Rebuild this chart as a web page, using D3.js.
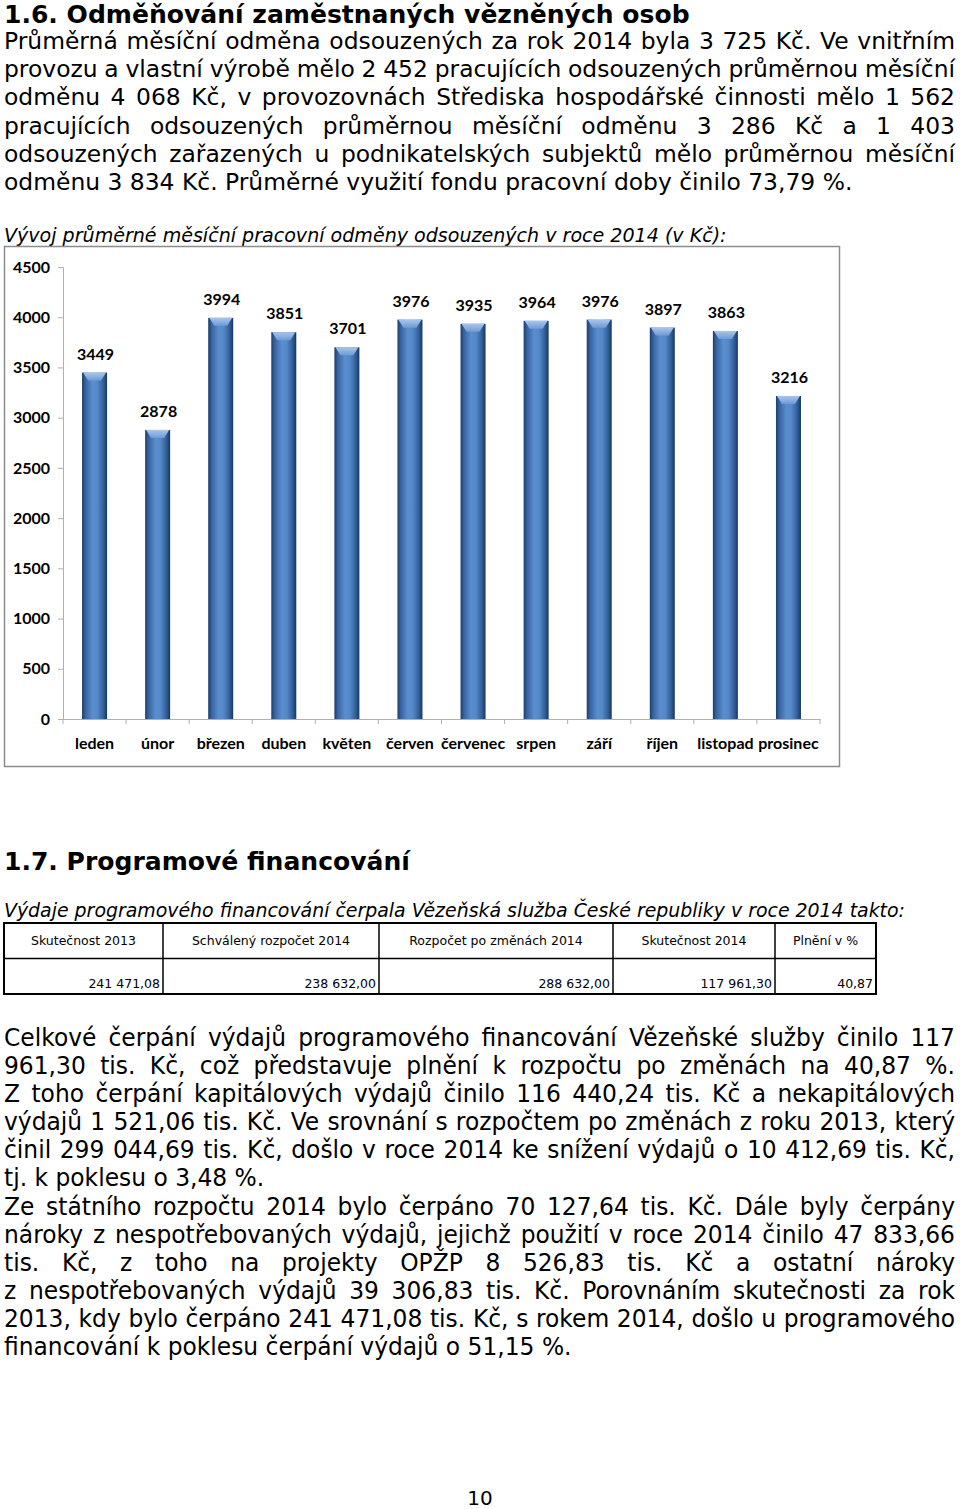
<!DOCTYPE html>
<html>
<head>
<meta charset="utf-8">
<script src="https://cdn.jsdelivr.net/npm/d3@7"></script>
<style>
  body { margin: 0; background: #fff; }
  svg { display: block; }
</style>
</head>
<body>
<div class="page"></div>
<script>
// ---- data ----
var months = ["leden", "únor", "březen", "duben", "květen", "červen", "červenec", "srpen", "září", "říjen", "listopad", "prosinec"];
var rewards = [3449, 2878, 3994, 3851, 3701, 3976, 3935, 3964, 3976, 3897, 3863, 3216];
var yTicks = [0, 500, 1000, 1500, 2000, 2500, 3000, 3500, 4000, 4500];

var tableHead = ["Skutečnost 2013", "Schválený rozpočet 2014", "Rozpočet po změnách 2014", "Skutečnost 2014", "Plnění v %"];
var tableVals = ["241 471,08", "238 632,00", "288 632,00", "117 961,30", "40,87"];

var para1 = [
  "Průměrná měsíční odměna odsouzených za rok 2014 byla 3 725 Kč. Ve vnitřním",
  "provozu a vlastní výrobě mělo 2 452 pracujících odsouzených průměrnou měsíční",
  "odměnu 4 068 Kč, v provozovnách Střediska hospodářské činnosti mělo 1 562",
  "pracujících odsouzených průměrnou měsíční odměnu 3 286 Kč a 1 403",
  "odsouzených zařazených u podnikatelských subjektů mělo průměrnou měsíční",
  "odměnu 3 834 Kč. Průměrné využití fondu pracovní doby činilo 73,79 %."
];
var para2 = [
  "Celkové čerpání výdajů programového financování Vězeňské služby činilo 117",
  "961,30 tis. Kč, což představuje plnění k rozpočtu po změnách na 40,87 %.",
  "Z toho čerpání kapitálových výdajů činilo 116 440,24 tis. Kč a nekapitálových",
  "výdajů 1 521,06 tis. Kč. Ve srovnání s rozpočtem po změnách z roku 2013, který",
  "činil 299 044,69 tis. Kč, došlo v roce 2014 ke snížení výdajů o 10 412,69 tis. Kč,",
  "tj. k poklesu o 3,48 %.",
  "Ze státního rozpočtu 2014 bylo čerpáno 70 127,64 tis. Kč. Dále byly čerpány",
  "nároky z nespotřebovaných výdajů, jejichž použití v roce 2014 činilo 47 833,66",
  "tis. Kč, z toho na projekty OPŽP 8 526,83 tis. Kč a ostatní nároky",
  "z nespotřebovaných výdajů 39 306,83 tis. Kč. Porovnáním skutečnosti za rok",
  "2013, kdy bylo čerpáno 241 471,08 tis. Kč, s rokem 2014, došlo u programového",
  "financování k poklesu čerpání výdajů o 51,15 %."
];
var para2Last = [5, 11];  // lines that are not justified

var bodyFont = "'DejaVu Sans', Verdana, sans-serif";
var chartFont = "Lato, 'Open Sans', sans-serif";

var svg = d3.select(".page").append("svg")
  .attr("width", 960)
  .attr("height", 1509);

// gradients for the cylinder bars
var defs = svg.append("defs");
var grad = defs.append("linearGradient").attr("id", "barGrad")
  .attr("x1", "0%").attr("x2", "100%").attr("y1", "0%").attr("y2", "0%");
[["0%", "#1b3e6d"], ["14%", "#3864a0"], ["42%", "#5a8ecf"], ["62%", "#5588c8"], ["86%", "#305d96"], ["100%", "#173660"]]
  .forEach(function(s) { grad.append("stop").attr("offset", s[0]).attr("stop-color", s[1]); });
var capGrad = defs.append("linearGradient").attr("id", "capGrad")
  .attr("x1", "0%").attr("x2", "0%").attr("y1", "0%").attr("y2", "100%");
capGrad.append("stop").attr("offset", "0%").attr("stop-color", "#a9c6ec");
capGrad.append("stop").attr("offset", "100%").attr("stop-color", "#6f9ad4");

function textWidth(t) { return t.node().getComputedTextLength(); }

function justify(t, target) {
  var n = (t.text().match(/ /g) || []).length;
  if (n) t.attr("word-spacing", (target - textWidth(t)) / n);
}

// fit a single line to a width by changing font size
function fitSize(t, target) {
  var fs = parseFloat(t.attr("font-size"));
  t.attr("font-size", fs * target / textWidth(t));
}

// ---- section 1.6 heading ----
var h1 = svg.append("text")
  .attr("x", 4).attr("y", 23)
  .attr("font-family", bodyFont).attr("font-weight", "bold")
  .attr("font-size", 26)
  .text("1.6. Odměňování zaměstnaných vězněných osob");
fitSize(h1, 686);

// paragraph 1 (justified)
var p1 = svg.append("g").attr("font-family", bodyFont).attr("fill", "#000");
var probe = p1.append("text").attr("font-size", 22).text(para1[para1.length - 1]);
var p1Size = 22 * 849 / textWidth(probe);
probe.remove();
para1.forEach(function(line, i) {
  var t = p1.append("text")
    .attr("x", 4).attr("y", 49 + i * 28.2)
    .attr("font-size", p1Size)
    .text(line);
  if (i < para1.length - 1) justify(t, 951);
});

// chart caption
var cap = svg.append("text")
  .attr("x", 4).attr("y", 242)
  .attr("font-family", bodyFont).attr("font-style", "italic")
  .attr("font-size", 18)
  .text("Vývoj průměrné měsíční pracovní odměny odsouzených v roce 2014 (v Kč):");
fitSize(cap, 723);

// ---- chart ----
svg.append("rect")
  .attr("x", 4.5).attr("y", 246.5)
  .attr("width", 835).attr("height", 520)
  .attr("fill", "#fff")
  .attr("stroke", "#8c8c8c").attr("stroke-width", 1.5);

var xOuter = d3.scaleBand().domain(months).range([63, 820]);
var y = d3.scaleLinear().domain([0, 4500]).range([719, 267]);

var chart = svg.append("g").attr("font-family", chartFont).attr("font-weight", "bold");

var yAxis = chart.append("g")
  .attr("transform", "translate(63,0)")
  .call(d3.axisLeft(y).tickValues(yTicks).tickSize(5).tickPadding(8).tickFormat(d3.format("d")));
yAxis.select(".domain").attr("stroke", "#b0b0b0");
yAxis.selectAll(".tick line").attr("stroke", "#b0b0b0");
yAxis.selectAll(".tick text")
  .attr("font-family", chartFont).attr("font-weight", "bold")
  .attr("font-size", 16).attr("fill", "#000");

var xAxis = chart.append("g")
  .attr("transform", "translate(0,719)")
  .call(d3.axisBottom(xOuter).tickSize(0).tickPadding(19));
xAxis.select(".domain").attr("stroke", "#b0b0b0");
xAxis.selectAll(".tick text")
  .attr("font-family", chartFont).attr("font-weight", "bold")
  .attr("font-size", 16).attr("fill", "#000");

// category separators on the x axis
chart.append("g").selectAll("line")
  .data(months.concat(["end"]))
  .enter().append("line")
  .attr("x1", function(d, i) { return xOuter.range()[0] + i * xOuter.bandwidth(); })
  .attr("x2", function(d, i) { return xOuter.range()[0] + i * xOuter.bandwidth(); })
  .attr("y1", 719).attr("y2", 724)
  .attr("stroke", "#b0b0b0");

var bars = chart.append("g").selectAll("g")
  .data(rewards)
  .enter().append("g");

bars.append("rect")
  .attr("x", function(d, i) { return xOuter(months[i]) + (xOuter.bandwidth() - 25) / 2; })
  .attr("y", function(d) { return y(d); })
  .attr("width", 25)
  .attr("height", function(d) { return y(0) - y(d); })
  .attr("fill", "url(#barGrad)");

bars.append("path")
  .attr("d", function(d, i) {
    var x0 = xOuter(months[i]) + (xOuter.bandwidth() - 25) / 2, x1 = x0 + 25, t = y(d);
    return "M" + (x0 + 1) + "," + t + "L" + (x1 - 1) + "," + t +
      "L" + (x1 - 6) + "," + (t + 8) + "L" + (x0 + 6) + "," + (t + 8) + "Z";
  })
  .attr("fill", "url(#capGrad)");

bars.append("text")
  .attr("x", function(d, i) { return xOuter(months[i]) + xOuter.bandwidth() / 2 + 1; })
  .attr("y", function(d) { return y(d) - 13; })
  .attr("text-anchor", "middle")
  .attr("font-size", 16)
  .text(function(d) { return d; });

// ---- section 1.7 ----
var h2 = svg.append("text")
  .attr("x", 4).attr("y", 870)
  .attr("font-family", bodyFont).attr("font-weight", "bold")
  .attr("font-size", 26)
  .text("1.7. Programové financování");
fitSize(h2, 406);

var cap2 = svg.append("text")
  .attr("x", 4).attr("y", 917)
  .attr("font-family", bodyFont).attr("font-style", "italic")
  .attr("font-size", 18)
  .text("Výdaje programového financování čerpala Vězeňská služba České republiky v roce 2014 takto:");
fitSize(cap2, 902);

// table
var colEdges = [4, 163, 379, 613, 775, 876];
var table = svg.append("g").attr("font-family", bodyFont).attr("font-size", 12.5);
table.append("rect")
  .attr("x", 4).attr("y", 923).attr("width", 872).attr("height", 71)
  .attr("fill", "none").attr("stroke", "#000").attr("stroke-width", 2);
table.append("line")
  .attr("x1", 4).attr("x2", 876).attr("y1", 958.5).attr("y2", 958.5)
  .attr("stroke", "#000").attr("stroke-width", 1.5);
table.selectAll("line.col")
  .data(colEdges.slice(1, -1))
  .enter().append("line").attr("class", "col")
  .attr("x1", function(d) { return d; }).attr("x2", function(d) { return d; })
  .attr("y1", 923).attr("y2", 994)
  .attr("stroke", "#000").attr("stroke-width", 1.5);
table.selectAll("text.head")
  .data(tableHead)
  .enter().append("text").attr("class", "head")
  .attr("x", function(d, i) { return (colEdges[i] + colEdges[i + 1]) / 2; })
  .attr("y", 945)
  .attr("text-anchor", "middle")
  .text(function(d) { return d; });
table.selectAll("text.val")
  .data(tableVals)
  .enter().append("text").attr("class", "val")
  .attr("x", function(d, i) { return colEdges[i + 1] - 3; })
  .attr("y", 988)
  .attr("text-anchor", "end")
  .text(function(d) { return d; });

// paragraph 2 (taller, horizontally squeezed face, justified)
var p2 = svg.append("g").attr("font-family", bodyFont).attr("font-size", 25);
var probe2 = p2.append("text").text(para2[11]);
var sx = 568 / textWidth(probe2);
probe2.remove();
p2.attr("transform", "translate(4,0) scale(" + sx + ",1)");
para2.forEach(function(line, i) {
  var t = p2.append("text")
    .attr("x", 0).attr("y", 1046 + i * 28.1)
    .text(line);
  if (para2Last.indexOf(i) < 0) justify(t, 951 / sx);
});

// page number
svg.append("text")
  .attr("x", 480).attr("y", 1505)
  .attr("text-anchor", "middle")
  .attr("font-family", bodyFont).attr("font-size", 20)
  .text("10");
</script>
</body>
</html>
